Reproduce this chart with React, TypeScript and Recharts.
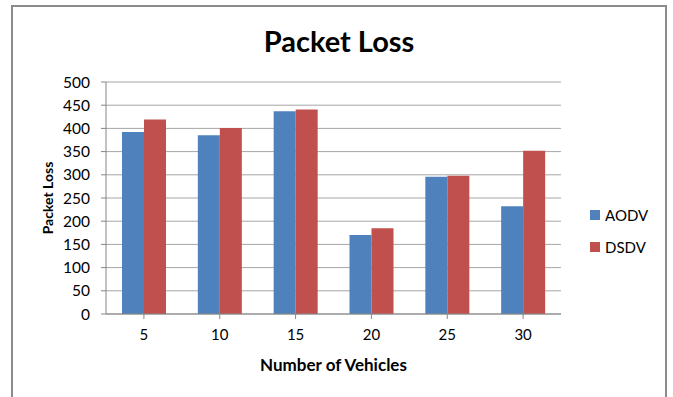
import React from 'react';
import { BarChart, Bar, XAxis, YAxis, CartesianGrid, Legend } from 'recharts';

const categories = ['5', '10', '15', '20', '25', '30'];
const aodv = [392, 385, 437, 170, 296, 232];
const dsdv = [419, 401, 441, 185, 298, 352];
const yTicks = [0, 50, 100, 150, 200, 250, 300, 350, 400, 450, 500];

const data = categories.map((c, i) => ({ name: c, AODV: aodv[i], DSDV: dsdv[i] }));

const FONT = 'Lato, Carlito, Calibri, sans-serif';

const LegendContent = (props: any) => {
  const payload = props.payload || [];
  return (
    <div style={{ fontFamily: FONT, fontSize: 15, color: '#000' }}>
      {payload.map((p: any) => (
        <div key={p.value} style={{ display: 'flex', alignItems: 'center', height: 32 }}>
          <span style={{ display: 'inline-block', width: 10, height: 10, background: p.color, marginRight: 5 }} />
          <span>{p.value}</span>
        </div>
      ))}
    </div>
  );
};

export default function App() {
  return (
    <div style={{ position: 'absolute', left: 0, top: 0, width: 673, height: 397, overflow: 'hidden', background: '#fff' }}>
      <div
        style={{
          position: 'absolute',
          left: 11,
          top: 5,
          width: 656,
          height: 420,
          boxSizing: 'border-box',
          border: '2px solid #8c8c8c',
        }}
      />
      <BarChart
        width={673}
        height={397}
        data={data}
        margin={{ top: 82, right: 112, bottom: 23, left: 46 }}
        barGap={0}
        style={{ position: 'absolute', left: 0, top: 0 }}
      >
        <text x={339} y={52} textAnchor="middle" style={{ fontFamily: FONT, fontSize: 29, fontWeight: 700, fill: '#000' }}>
          Packet Loss
        </text>
        <CartesianGrid vertical={false} stroke="#a6a6a6" strokeWidth={1} />
        <XAxis
          dataKey="name"
          height={60}
          tickLine={{ stroke: '#868686' }}
          axisLine={{ stroke: '#868686' }}
          tickSize={5}
          tickMargin={10}
          tick={{ fontFamily: FONT, fontSize: 15, fill: '#000' }}
          label={{
            value: 'Number of Vehicles',
            position: 'insideBottom',
            offset: 3,
            style: { fontFamily: FONT, fontSize: 17, fontWeight: 700, fill: '#000' },
          }}
        />
        <YAxis
          width={60}
          domain={[0, 500]}
          ticks={yTicks}
          interval={0}
          tickLine={{ stroke: '#868686' }}
          axisLine={{ stroke: '#868686' }}
          tickSize={5}
          tickMargin={11}
          tick={{ fontFamily: FONT, fontSize: 15.5, fill: '#000' }}
          label={{
            value: 'Packet Loss',
            angle: -90,
            position: 'insideLeft',
            offset: 2,
            style: { textAnchor: 'middle', fontFamily: FONT, fontSize: 14, fontWeight: 700, fill: '#000' },
          }}
        />
        <Legend
          layout="vertical"
          align="center"
          verticalAlign="middle"
          content={<LegendContent />}
          wrapperStyle={{ left: 590, top: 199, width: 80 }}
        />
        <Bar dataKey="AODV" fill="#4F81BD" barSize={22} isAnimationActive={false} />
        <Bar dataKey="DSDV" fill="#C0504D" barSize={22} isAnimationActive={false} />
      </BarChart>
    </div>
  );
}
